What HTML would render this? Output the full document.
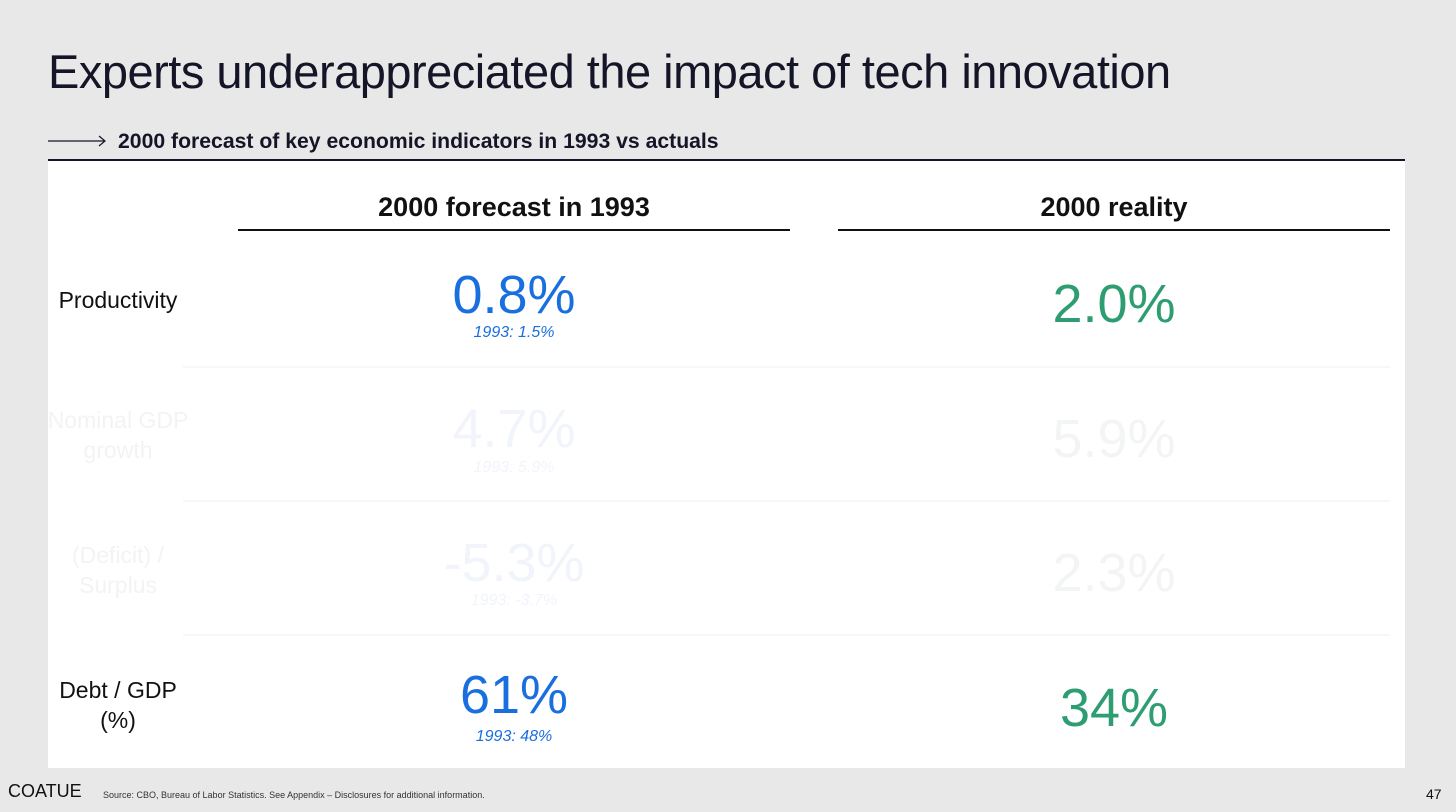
<!DOCTYPE html>
<html><head><meta charset="utf-8"><style>
body{margin:0;width:1456px;height:812px;background:#e8e8e8;font-family:"Liberation Sans",sans-serif;position:relative;overflow:hidden}
.a{position:absolute;white-space:nowrap}
.c{transform:translateX(-50%);text-align:center}
.big{font-size:54px;font-weight:300;line-height:1}
.sm{font-size:16px;font-style:italic;line-height:1}
.lab{font-size:23px;color:#111;text-align:center;line-height:30px;width:150px;left:43px}
.sep{position:absolute;left:183px;width:1207px;height:2px;background:#f7f7f7}
</style></head><body>
<div class="a" style="left:48px;top:44px;font-size:47px;color:#151528;letter-spacing:-0.5px">Experts underappreciated the impact of tech innovation</div>
<svg class="a" style="left:48px;top:135px" width="60" height="12"><line x1="0" y1="6" x2="56" y2="6" stroke="#151528" stroke-width="1.2"/><polyline points="51,1 57,6 51,11" fill="none" stroke="#151528" stroke-width="1.2"/></svg>
<div class="a" style="left:118px;top:130px;font-size:21.2px;font-weight:bold;color:#151528">2000 forecast of key economic indicators in 1993 vs actuals</div>
<div class="a" style="left:48px;top:159px;width:1357px;height:1.5px;background:#151528"></div>
<div class="a" style="left:48px;top:161px;width:1357px;height:607px;background:#fff"></div>
<div class="a c" style="left:514px;top:192px;font-size:27px;font-weight:bold;color:#111">2000 forecast in 1993</div>
<div class="a" style="left:238px;top:229px;width:552px;height:1.5px;background:#111"></div>
<div class="a c" style="left:1114px;top:192px;font-size:27px;font-weight:bold;color:#111">2000 reality</div>
<div class="a" style="left:838px;top:229px;width:552px;height:1.5px;background:#111"></div>
<div class="sep" style="top:366px"></div>
<div class="sep" style="top:500px"></div>
<div class="sep" style="top:634px"></div>

<div class="a lab" style="top:285px">Productivity</div>
<div class="a c big" style="left:514px;top:268px;color:#1a6fdf">0.8%</div>
<div class="a c sm" style="left:514px;top:325px;color:#1a6fdf">1993: 1.5%</div>
<div class="a c big" style="left:1114px;top:277px;color:#2e9e72">2.0%</div>

<div class="a lab" style="top:405px;color:#f3f3f6">Nominal GDP<br>growth</div>
<div class="a c big" style="left:514px;top:402px;color:#f1f4fb">4.7%</div>
<div class="a c sm" style="left:514px;top:460px;color:#f1f4fb">1993: 5.9%</div>
<div class="a c big" style="left:1114px;top:412px;color:#f3f5f4">5.9%</div>

<div class="a lab" style="top:540px;color:#f3f3f6">(Deficit) /<br>Surplus</div>
<div class="a c big" style="left:514px;top:536px;color:#f1f4fb">-5.3%</div>
<div class="a c sm" style="left:514px;top:593px;color:#f1f4fb">1993: -3.7%</div>
<div class="a c big" style="left:1114px;top:546px;color:#f3f5f4">2.3%</div>

<div class="a lab" style="top:675px">Debt / GDP<br>(%)</div>
<div class="a c big" style="left:514px;top:668px;color:#1a6fdf">61%</div>
<div class="a c sm" style="left:514px;top:729px;color:#1a6fdf">1993: 48%</div>
<div class="a c big" style="left:1114px;top:681px;color:#2e9e72">34%</div>

<div class="a" style="left:8px;top:781px;font-size:18px;color:#111">COATUE</div>
<div class="a" style="left:103px;top:790px;font-size:9px;color:#333">Source: CBO, Bureau of Labor Statistics. See Appendix – Disclosures for additional information.</div>
<div class="a" style="left:1426px;top:786px;font-size:14px;color:#111">47</div>
</body></html>
